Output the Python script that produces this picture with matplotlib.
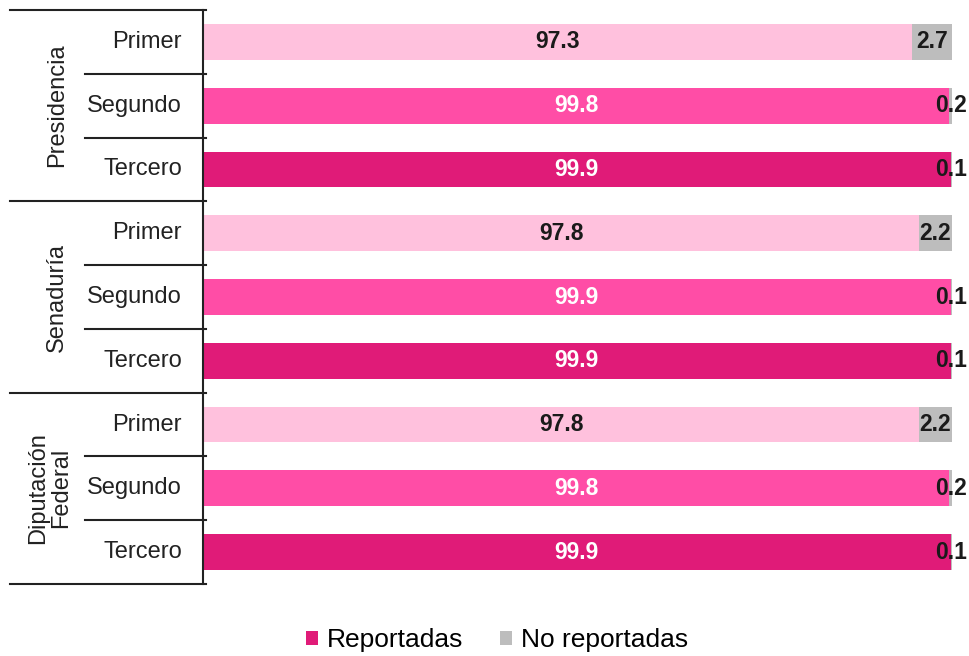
import matplotlib
matplotlib.use("Agg")
import matplotlib.pyplot as plt
import matplotlib.transforms as mtransforms
from matplotlib.patches import Patch

plt.rcParams['font.family'] = ['Liberation Sans', 'DejaVu Sans']

groups = ["Presidencia", "Senaduría", "Diputación\nFederal"]
rounds = ["Primer", "Segundo", "Tercero"]
reportadas = [97.3, 99.8, 99.9, 97.8, 99.9, 99.9, 97.8, 99.8, 99.9]
no_reportadas = [2.7, 0.2, 0.1, 2.2, 0.1, 0.1, 2.2, 0.2, 0.1]

round_colors = ["#FFC1DD", "#FF4DA6", "#E01B78"]
text_colors = ["#1a1a1a", "white", "white"]
gray = "#BDBDBD"

XMIN, XMAX = 50, 100

fig = plt.figure(figsize=(9.7, 6.56), dpi=100)
ax = fig.add_axes([203/970, 1-584/656, (952-203)/970, (584-10)/656])

n = len(reportadas)
ys = list(range(n))
h = 0.56
for i in ys:
    r = i % 3
    ax.barh(i, reportadas[i], height=h, color=round_colors[r], edgecolor='none')
    ax.barh(i, no_reportadas[i], left=reportadas[i], height=h, color=gray, edgecolor='none')
    ax.text((XMIN + reportadas[i]) / 2, i, f"{reportadas[i]:.1f}", ha='center', va='center',
            color=text_colors[r], fontsize=16.5, fontweight='bold')
    ax.text(reportadas[i] + no_reportadas[i] / 2, i,
            f"{no_reportadas[i]:.1f}", ha='center', va='center',
            color='#1a1a1a', fontsize=16.5, fontweight='bold', clip_on=False)

ax.set_ylim(n - 0.5, -0.5)
ax.set_xlim(XMIN, XMAX)
ax.set_xticks([])
ax.set_yticks([])
for s in ['top', 'right', 'bottom']:
    ax.spines[s].set_visible(False)
ax.spines['left'].set_linewidth(1.5)
ax.spines['left'].set_color('#222222')
ax.spines['left'].set_zorder(5)

trans = mtransforms.blended_transform_factory(ax.transAxes, ax.transData)
axw = 952 - 203
x_far = (10 - 203) / axw
x_near = (85 - 203) / axw
x_lab = (182 - 203) / axw
for b in range(n + 1):
    y = b - 0.5
    x0 = x_far if b % 3 == 0 else x_near
    ax.plot([x0, 0.004], [y, y], transform=trans, color='#222222', lw=1.5, clip_on=False)

for i in ys:
    ax.text(x_lab, i, rounds[i % 3], transform=trans, ha='right', va='center',
            fontsize=17, color='#222222')

group_x = [(57 - 203) / axw, (57 - 203) / axw, (50 - 203) / axw]
for g, name in enumerate(groups):
    ax.text(group_x[g], g * 3 + 1, name, transform=trans, ha='center', va='center',
            rotation=90, fontsize=17, color='#222222', linespacing=1.05)

handles = [Patch(facecolor=round_colors[2], label="Reportadas"),
           Patch(facecolor=gray, label="No reportadas")]
fig.legend(handles=handles, loc='center', bbox_to_anchor=(497/970, 1-640/656), ncol=2,
           frameon=False, fontsize=19, handlelength=0.45, handleheight=0.45,
           handletextpad=0.35, columnspacing=1.4)

fig.savefig("out.png", dpi=100)
